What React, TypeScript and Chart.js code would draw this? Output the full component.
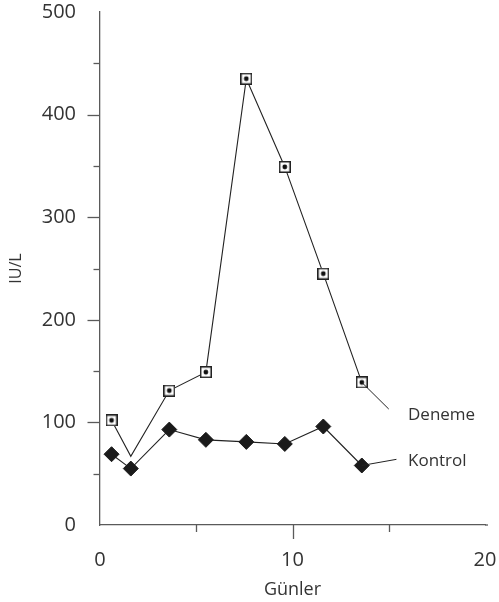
import React, { useEffect, useRef } from "react";
import { Chart, registerables } from "chart.js";

Chart.register(...registerables);

// ---- data ----
const days = [0.6, 1.6, 3.6, 5.5, 7.6, 9.6, 11.6, 13.6];
const deneme = [102, 67, 131, 149, 435, 349, 245, 139];
const denemeShowMarker = [true, false, true, true, true, true, true, true];
const kontrol = [69, 55, 93, 83, 81, 79, 96, 58];
const seriesNames = ["Deneme", "Kontrol"];
const denemeLeader = [
  { x: 13.6, y: 139 },
  { x: 15.0, y: 113 },
];
const kontrolLeader = [
  { x: 13.6, y: 58 },
  { x: 15.4, y: 64 },
];
const labelAnchors = [
  { x: 16.0, y: 107 },
  { x: 16.0, y: 62 },
];
const xMajorTicks = [10];
const xMinorTicks = [5, 15];
const yMajorTicks = [100, 200, 300, 400];
const yMinorTicks = [50, 150, 250, 350, 450];
const xTitle = "Günler";
const yTitle = "IU/L";

const FONT = "'Open Sans', 'Noto Sans', sans-serif";
const TEXT = "#333333";
const AXIS = "#5a5a5a";
const LINE = "#222222";
const CLEAR = "rgba(0,0,0,0)";

function makeSquareMarker(): HTMLCanvasElement {
  const c = document.createElement("canvas");
  c.width = 12;
  c.height = 12;
  const g = c.getContext("2d")!;
  g.fillStyle = "#ffffff";
  g.fillRect(0, 0, 12, 12);
  g.strokeStyle = "#222222";
  g.lineWidth = 1.5;
  g.strokeRect(0.75, 0.75, 10.5, 10.5);
  g.fillStyle = "#111111";
  g.beginPath();
  g.arc(6, 6, 2.4, 0, Math.PI * 2);
  g.fill();
  return c;
}

const annotPlugin = {
  id: "annot",
  afterDraw(chart: any) {
    const { ctx, scales } = chart;
    const x = scales.x;
    const y = scales.y;
    ctx.save();
    ctx.strokeStyle = AXIS;
    ctx.lineWidth = 1.3;
    const seg = (x1: number, y1: number, x2: number, y2: number) => {
      ctx.beginPath();
      ctx.moveTo(x1, y1);
      ctx.lineTo(x2, y2);
      ctx.stroke();
    };
    seg(x.right, y.bottom, x.right + 3, y.bottom);
    xMajorTicks.forEach((v) => {
      const p = Math.round(x.getPixelForValue(v)) + 0.5;
      seg(p, y.bottom, p, y.bottom + 14);
    });
    xMinorTicks.forEach((v) => {
      const p = Math.round(x.getPixelForValue(v)) + 0.5;
      seg(p, y.bottom, p, y.bottom + 7);
    });
    yMajorTicks.forEach((v) => {
      const p = Math.round(y.getPixelForValue(v)) + 0.5;
      seg(x.left - 12.5, p, x.left, p);
    });
    yMinorTicks.forEach((v) => {
      const p = Math.round(y.getPixelForValue(v)) + 0.5;
      seg(x.left - 6.5, p, x.left, p);
    });
    ctx.fillStyle = TEXT;
    ctx.font = `17px ${FONT}`;
    ctx.textAlign = "left";
    ctx.textBaseline = "middle";
    seriesNames.forEach((name, i) => {
      const a = labelAnchors[i];
      ctx.fillText(name, x.getPixelForValue(a.x), y.getPixelForValue(a.y));
    });
    ctx.restore();
  },
};

export default function App() {
  const ref = useRef<HTMLCanvasElement>(null);

  useEffect(() => {
    if (!ref.current) return;
    const square = makeSquareMarker();
    const chart = new Chart(ref.current, {
      type: "line",
      data: {
        datasets: [
          {
            label: "leaderDeneme",
            data: denemeLeader,
            borderColor: LINE,
            borderWidth: 1,
            pointRadius: 0,
          },
          {
            label: "leaderKontrol",
            data: kontrolLeader,
            borderColor: LINE,
            borderWidth: 1,
            pointRadius: 0,
          },
          {
            label: seriesNames[1],
            data: days.map((d, i) => ({ x: d, y: kontrol[i] })),
            borderColor: LINE,
            borderWidth: 1.1,
            pointStyle: "rectRot",
            pointRadius: 7.5,
            pointBackgroundColor: "#1a1a1a",
            pointBorderColor: "#1a1a1a",
            pointBorderWidth: 1,
          },
          {
            label: seriesNames[0],
            data: days.map((d, i) => ({ x: d, y: deneme[i] })),
            borderColor: LINE,
            borderWidth: 1.1,
            pointStyle: square as any,
            pointRadius: denemeShowMarker.map((s) => (s ? 6 : 0)),
          },
        ],
      },
      options: {
        animation: false,
        responsive: false,
        events: [],
        layout: { padding: { top: 12, right: 14, left: 0, bottom: 0 } },
        plugins: {
          legend: { display: false },
          tooltip: { enabled: false },
        },
        scales: {
          x: {
            type: "linear",
            min: 0,
            max: 20,
            afterFit: (s: any) => {
              s.height = 77;
            },
            grid: {
              display: true,
              drawOnChartArea: false,
              drawTicks: true,
              tickLength: 23,
              tickColor: CLEAR,
            },
            border: { display: true, color: AXIS, width: 1.3 },
            ticks: {
              stepSize: 10,
              color: TEXT,
              font: { family: FONT, size: 20 },
              padding: 0,
              maxRotation: 0,
              autoSkip: false,
            },
            title: {
              display: true,
              text: xTitle,
              color: TEXT,
              font: { family: FONT, size: 18 },
              padding: { top: 0, bottom: 1 },
            },
          },
          y: {
            type: "linear",
            min: 0,
            max: 500,
            afterFit: (s: any) => {
              s.width = 100;
            },
            grid: {
              display: true,
              drawOnChartArea: false,
              drawTicks: true,
              tickLength: 24,
              tickColor: CLEAR,
            },
            border: { display: true, color: AXIS, width: 1.3 },
            ticks: {
              stepSize: 100,
              color: TEXT,
              font: { family: FONT, size: 20 },
              padding: 0,
              autoSkip: false,
            },
            title: {
              display: true,
              text: yTitle,
              color: TEXT,
              font: { family: FONT, size: 16 },
              padding: { top: 7, bottom: 0 },
            },
          },
        },
      },
      plugins: [annotPlugin],
    });
    return () => chart.destroy();
  }, []);

  return (
    <div style={{ position: "absolute", left: 0, top: 0, width: 499, height: 602, background: "#fff" }}>
      <canvas ref={ref} width={499} height={602} style={{ display: "block" }} />
    </div>
  );
}
